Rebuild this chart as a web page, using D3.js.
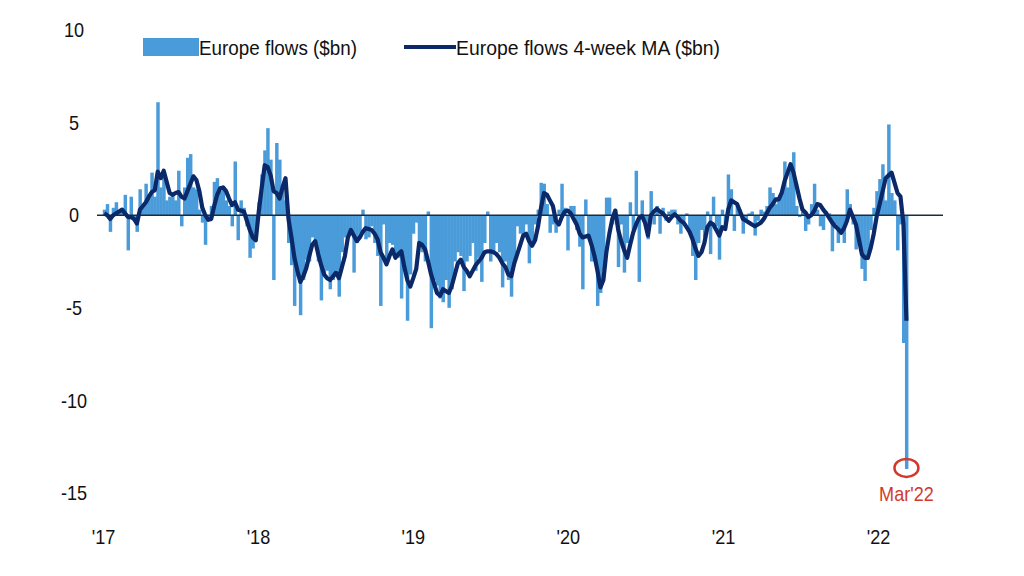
<!DOCTYPE html>
<html><head><meta charset="utf-8">
<script src="https://cdn.jsdelivr.net/npm/d3@7"></script>
<style>
html,body{margin:0;padding:0;background:#fff;}
svg text{font-family:'Liberation Sans Narrow','Arial Narrow','Liberation Sans',sans-serif;}
</style></head>
<body><svg id="c" width="1024" height="576"></svg>
<script>
const startDate = "2017-01-04";
const flows = [0.3,0.6,-0.9,0.4,0.7,0.2,0.3,1.1,-1.9,1.0,-0.3,-0.9,1.4,0.5,1.7,1.0,2.3,1.0,6.1,1.5,
2.3,0.8,1.0,1.2,0.8,2.4,-0.6,1.5,3.1,3.3,1.5,1.4,0.3,-0.4,-1.6,-0.3,0.5,1.8,2.0,1.3,
1.5,0.8,0.5,-0.6,2.9,-1.35,0.8,0.4,-0.6,-2.3,-1.8,-1.0,0.7,2.2,3.5,4.7,3.0,-3.5,3.9,3.0,
1.6,0.8,-1.5,-2.7,-4.9,-3.3,-5.4,-3.5,-2.4,-2.5,-1.2,-1.5,-2.5,-4.6,-3.2,-3.0,-4.0,-3.5,-3.0,-4.4,
-2.0,-1.2,-1.0,-0.8,-3.1,-1.5,-1.0,0.3,-1.3,-1.2,-0.6,-1.5,-2.2,-4.9,-0.5,-2.4,-1.5,-1.6,-2.3,-2.3,
-4.5,-3.0,-5.7,-3.2,-1.0,-0.4,-1.5,-2.0,-2.5,0.2,-6.1,-3.5,-3.8,-4.5,-4.7,-3.5,-5.0,-4.0,-2.5,-2.0,
-2.2,-4.1,-2.5,-2.2,-1.5,-3.0,-2.3,-3.6,-1.5,0.2,-2.5,-2.1,-1.5,-2.0,-3.9,-2.5,-3.5,-4.4,-2.5,-0.6,
-1.0,-1.2,-0.5,-2.6,-1.5,-0.5,0.3,1.75,1.7,0.6,-0.95,-0.5,-0.95,0.3,1.7,0.4,-1.9,0.5,0.5,-0.8,
-1.7,-4.0,0.85,-1.2,-2.5,-2.5,-4.9,-4.2,-3.0,0.95,0.95,-0.5,0.3,-2.8,-0.5,-3.1,-1.5,0.7,-0.8,2.4,
-3.6,0.8,-0.3,-1.3,1.3,-0.5,0.5,-1.0,0.4,-0.3,0.2,0.3,0.3,-0.5,-1.0,-0.3,0.1,-0.8,-2.2,-3.5,
-1.5,-0.8,-1.2,0.2,-2.1,1.0,-0.6,-2.4,0.3,-0.7,2.2,1.4,-0.85,0.5,0.3,-1.0,-0.3,0.1,0.2,-1.1,
-0.3,0.3,0.2,0.5,1.5,1.2,0.6,0.9,1.2,2.9,1.5,2.6,3.4,0.5,-0.1,0.2,-0.85,-0.5,0.6,1.7,
0.3,-0.6,-0.8,0.2,0.1,-1.95,-0.5,-1.5,-0.8,-1.5,1.4,0.6,-0.5,-1.85,-1.5,-2.9,-3.55,-2.0,-0.8,0.4,
1.3,1.95,2.75,0.8,4.9,1.2,0.8,-1.9,-0.5,-6.9,-13.7];
const flowsMA = [0.1,0.0,-0.2,0.0,0.1,0.2,0.3,0.1,-0.1,-0.1,-0.2,-0.45,0.3,0.5,0.7,1.0,1.25,1.35,2.35,2.0,
2.4,1.8,1.2,1.1,1.2,1.25,1.0,0.9,1.3,1.7,2.1,1.9,1.3,0.4,0.0,-0.25,-0.2,0.5,1.1,1.45,
1.5,1.3,0.9,0.55,0.7,0.3,0.25,0.2,-0.3,-0.8,-1.2,-1.35,0.2,1.5,2.7,2.6,2.15,1.3,1.2,0.9,
1.5,2.0,-0.2,-1.2,-2.3,-3.0,-3.6,-3.3,-2.85,-2.2,-1.6,-1.4,-2.1,-2.7,-3.2,-3.4,-3.5,-3.3,-3.1,-3.4,
-2.8,-2.2,-1.2,-0.8,-1.1,-1.4,-1.2,-0.9,-0.7,-0.75,-0.8,-1.0,-1.3,-2.0,-2.3,-2.65,-2.2,-1.85,-2.3,-2.1,
-1.95,-2.8,-3.5,-3.85,-3.4,-2.9,-1.5,-1.6,-1.85,-2.5,-3.2,-3.7,-4.2,-4.35,-4.0,-4.1,-4.2,-3.8,-3.2,-2.6,
-2.4,-2.8,-3.0,-3.3,-3.0,-2.7,-2.5,-2.3,-2.0,-1.95,-1.95,-2.0,-2.1,-2.3,-2.6,-2.8,-3.2,-3.3,-2.6,-2.1,
-1.6,-1.1,-1.0,-1.4,-1.65,-1.35,-0.6,0.4,1.2,1.1,0.8,0.5,-0.3,-0.5,-0.1,0.2,0.25,0.1,-0.2,-0.5,
-1.0,-1.2,-1.15,-1.1,-1.6,-2.2,-3.0,-3.9,-3.5,-2.0,-1.0,-0.2,0.25,-0.8,-1.4,-1.9,-2.3,-1.6,-0.95,-0.5,
-0.15,-0.05,-0.4,-1.1,0.0,0.2,0.35,0.2,0.1,-0.1,-0.3,-0.1,0.05,-0.1,-0.3,-0.4,-0.65,-0.9,-1.3,-1.8,
-2.2,-2.0,-1.5,-0.65,-0.4,-0.5,-0.8,-1.1,-0.65,-0.75,0.3,0.8,0.7,0.6,0.2,-0.2,-0.3,-0.4,-0.5,-0.6,
-0.5,-0.4,-0.2,0.1,0.4,0.6,0.85,0.85,1.2,1.85,2.3,2.75,2.3,1.6,0.9,0.3,0.15,-0.1,0.0,0.25,
0.6,0.55,0.3,0.1,-0.15,-0.4,-0.6,-0.75,-0.95,-0.7,-0.3,0.3,-0.1,-0.5,-1.3,-2.1,-2.3,-2.3,-1.75,-1.0,
-0.05,0.6,1.3,2.0,2.15,2.3,1.75,1.2,1.0,-0.5,-5.7];
const yTicks = [10, 5, 0, -5, -10, -15];
const yearTicks = ["2017-01-01","2018-01-01","2019-01-01","2020-01-01","2021-01-01","2022-01-01"];
const yearLabels = ["'17","'18","'19","'20","'21","'22"];
const legendLabels = ["Europe flows ($bn)", "Europe flows 4-week MA ($bn)"];
const annotation = "Mar'22";

const parse = d3.utcParse("%Y-%m-%d");
const t0 = parse(startDate);
const dates = flows.map((_, i) => d3.utcDay.offset(t0, 7 * i));
const yearDates = yearTicks.map(parse);

const svg = d3.select("#c");
const x = d3.scaleUtc().domain([yearDates[0], yearDates[5]]).range([103, 878]);
const y = d3.scaleLinear().domain([-15, 10]).range([493, 30]);
const step = x(dates[1]) - x(dates[0]);

const barColor = "#4a9bd9", lineColor = "#0b2868", red = "#d2392b";

// condense text to mimic a narrow face
function narrow(sel, k) {
  sel.each(function () {
    const len = this.getComputedTextLength();
    d3.select(this).attr("textLength", len * k).attr("lengthAdjust", "spacingAndGlyphs");
  });
}

// bars
svg.append("g").selectAll("rect").data(flows).join("rect")
  .attr("x", (d, i) => x(dates[i]) - step / 2)
  .attr("width", step + 0.5)
  .attr("y", d => y(Math.max(0, d)))
  .attr("height", d => Math.abs(y(d) - y(0)))
  .attr("fill", barColor);

// zero line
svg.append("line").attr("x1", 97).attr("x2", 943).attr("y1", y(0)).attr("y2", y(0))
  .attr("stroke", "#1c2c3f").attr("stroke-width", 1.6);

// MA line
svg.append("path").datum(flowsMA)
  .attr("d", d3.line().x((d, i) => x(dates[i])).y(d => y(d)))
  .attr("fill", "none").attr("stroke", lineColor).attr("stroke-width", 4.2)
  .attr("stroke-linejoin", "round");

// y axis
const yAxis = d3.axisLeft(y).tickValues(yTicks).tickSize(0).tickFormat(d => String(d));
const ya = svg.append("g").attr("transform", "translate(86,0)").call(yAxis);
ya.select(".domain").remove();
ya.selectAll("text").attr("font-size", 21).attr("fill", "#111").attr("text-anchor", "middle").attr("x", -12);
narrow(ya.selectAll("text"), 0.86);

// x axis
const xAxis = d3.axisBottom(x).tickValues(yearDates).tickSize(0).tickFormat((d, i) => yearLabels[i]);
const xa = svg.append("g").attr("transform", "translate(0,526)").call(xAxis);
xa.select(".domain").remove();
xa.selectAll("text").attr("font-size", 21).attr("fill", "#111");
narrow(xa.selectAll("text"), 0.86);

// legend
const lg = svg.append("g");
lg.append("rect").attr("x", 143).attr("y", 38).attr("width", 56).attr("height", 18).attr("fill", barColor);
lg.append("text").attr("x", 199).attr("y", 55).attr("font-size", 21).attr("fill", "#111")
  .attr("textLength", 158).attr("lengthAdjust", "spacingAndGlyphs").text(legendLabels[0]);
lg.append("line").attr("x1", 404).attr("x2", 456).attr("y1", 47).attr("y2", 47)
  .attr("stroke", lineColor).attr("stroke-width", 4);
lg.append("text").attr("x", 456).attr("y", 55).attr("font-size", 21).attr("fill", "#111")
  .attr("textLength", 264).attr("lengthAdjust", "spacingAndGlyphs").text(legendLabels[1]);

// annotation
const last = flows.length - 1;
svg.append("ellipse").attr("cx", x(dates[last])).attr("cy", y(flows[last]) - 1)
  .attr("rx", 12).attr("ry", 9).attr("fill", "none").attr("stroke", red).attr("stroke-width", 2.5);
const ann = svg.append("text").attr("x", x(dates[last])).attr("y", 501).attr("text-anchor", "middle")
  .attr("font-size", 21).attr("fill", red).text(annotation);
narrow(ann, 0.86);
</script></body></html>
